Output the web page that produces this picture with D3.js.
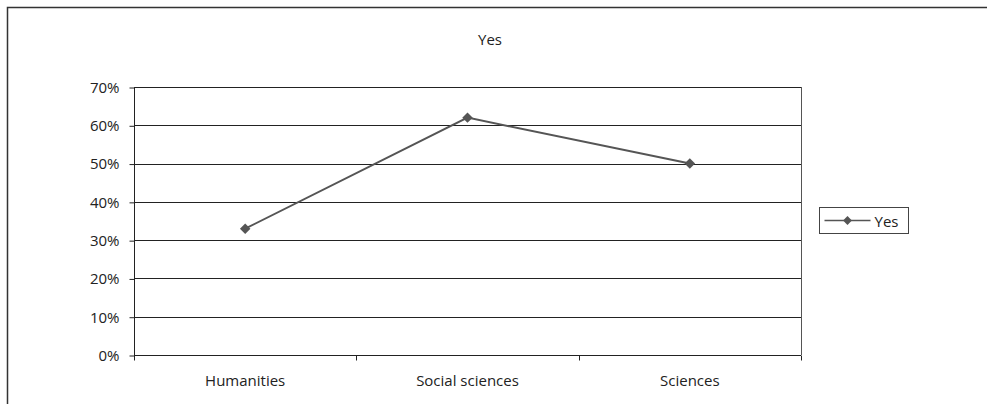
<!DOCTYPE html>
<html lang="en">
<head>
    <meta charset="UTF-8">
    <title>Yes</title>
    <script src="https://d3js.org/d3.v7.min.js"></script>
    <style>
        body { margin: 0; background: #fff; }
    </style>
</head>
<body>
    <div id="chart"></div>
    <script>
        const categories = ["Humanities", "Social sciences", "Sciences"];
        const yesValues = [0.33, 0.62, 0.50];
        const yTicks = [0, 0.1, 0.2, 0.3, 0.4, 0.5, 0.6, 0.7];
        const seriesName = "Yes";

        const width = 987, height = 404;
        const plotLeft = 134, plotRight = 801, plotTop = 87, plotBottom = 355;
        const font = "'Open Sans', sans-serif";
        const fs = 15;

        const svg = d3.select("#chart").append("svg")
            .attr("width", width)
            .attr("height", height)
            .attr("font-family", font)
            .attr("font-size", fs);

        // outer frame (only top and left edges show)
        svg.append("path")
            .attr("d", `M7.5,${height} V7.5 H${width}`)
            .attr("fill", "none")
            .attr("stroke", "#333")
            .attr("stroke-width", 1.5);

        const x = d3.scaleBand().domain(categories).range([plotLeft, plotRight]);
        const y = d3.scaleLinear().domain([0, 0.7]).range([plotBottom, plotTop]);

        // gridlines
        svg.append("g")
            .selectAll("line")
            .data(yTicks.slice(1))
            .join("line")
            .attr("x1", plotLeft).attr("x2", plotRight)
            .attr("y1", d => Math.round(y(d)) + 0.5)
            .attr("y2", d => Math.round(y(d)) + 0.5)
            .attr("stroke", "#222")
            .attr("stroke-width", 1);

        // right border of plot area
        svg.append("line")
            .attr("x1", plotRight + 0.5).attr("x2", plotRight + 0.5)
            .attr("y1", plotTop).attr("y2", plotBottom)
            .attr("stroke", "#555");

        // y axis
        const yAxis = svg.append("g")
            .attr("transform", `translate(${plotLeft + 0.5},0.5)`)
            .call(d3.axisLeft(y).tickValues(yTicks).tickFormat(d3.format(".0%")).tickSize(5).tickPadding(10));
        yAxis.select(".domain").attr("stroke", "#222").attr("d", `M0,${y(0.7)}V${y(0)}`);
        yAxis.selectAll("text").attr("font-family", font).attr("font-size", fs).attr("fill", "#222");
        yAxis.selectAll("line").attr("stroke", "#222");

        // x axis with ticks at band boundaries
        const xAxis = svg.append("g")
            .attr("transform", `translate(0,${plotBottom + 0.5})`);
        xAxis.append("line")
            .attr("x1", plotLeft).attr("x2", plotRight)
            .attr("stroke", "#222");
        const bounds = categories.map(c => x(c)).concat([x(categories[categories.length - 1]) + x.bandwidth()]);
        xAxis.selectAll(".tk")
            .data(bounds)
            .join("line")
            .attr("class", "tk")
            .attr("x1", d => Math.round(d) + 0.5).attr("x2", d => Math.round(d) + 0.5)
            .attr("y1", 0).attr("y2", 5)
            .attr("stroke", "#222");
        xAxis.selectAll("text")
            .data(categories)
            .join("text")
            .attr("x", d => x(d) + x.bandwidth() / 2)
            .attr("y", 30)
            .attr("text-anchor", "middle")
            .attr("fill", "#222")
            .text(d => d);

        // title
        svg.append("text")
            .attr("x", 490).attr("y", 45)
            .attr("text-anchor", "middle")
            .attr("fill", "#222")
            .text(seriesName);

        // line
        const cx = d => x(d) + x.bandwidth() / 2;
        const line = d3.line()
            .x((d, i) => cx(categories[i]))
            .y(d => y(d));
        svg.append("path")
            .datum(yesValues)
            .attr("d", line)
            .attr("fill", "none")
            .attr("stroke", "#555")
            .attr("stroke-width", 2);

        const diamond = d3.symbol().type(d3.symbolDiamond2).size(70);
        svg.append("g")
            .selectAll("path")
            .data(yesValues)
            .join("path")
            .attr("transform", (d, i) => `translate(${cx(categories[i])},${y(d)})`)
            .attr("d", diamond)
            .attr("fill", "#555");

        // legend
        const lg = svg.append("g").attr("transform", "translate(819.5,207.5)");
        lg.append("rect")
            .attr("width", 89).attr("height", 26)
            .attr("fill", "#fff").attr("stroke", "#444");
        lg.append("line")
            .attr("x1", 5).attr("x2", 51).attr("y1", 13).attr("y2", 13)
            .attr("stroke", "#555").attr("stroke-width", 1.5);
        lg.append("path")
            .attr("transform", "translate(28,13)")
            .attr("d", d3.symbol().type(d3.symbolDiamond2).size(50))
            .attr("fill", "#555");
        lg.append("text")
            .attr("x", 55).attr("y", 19)
            .attr("fill", "#222")
            .text(seriesName);
    </script>
</body>
</html>
